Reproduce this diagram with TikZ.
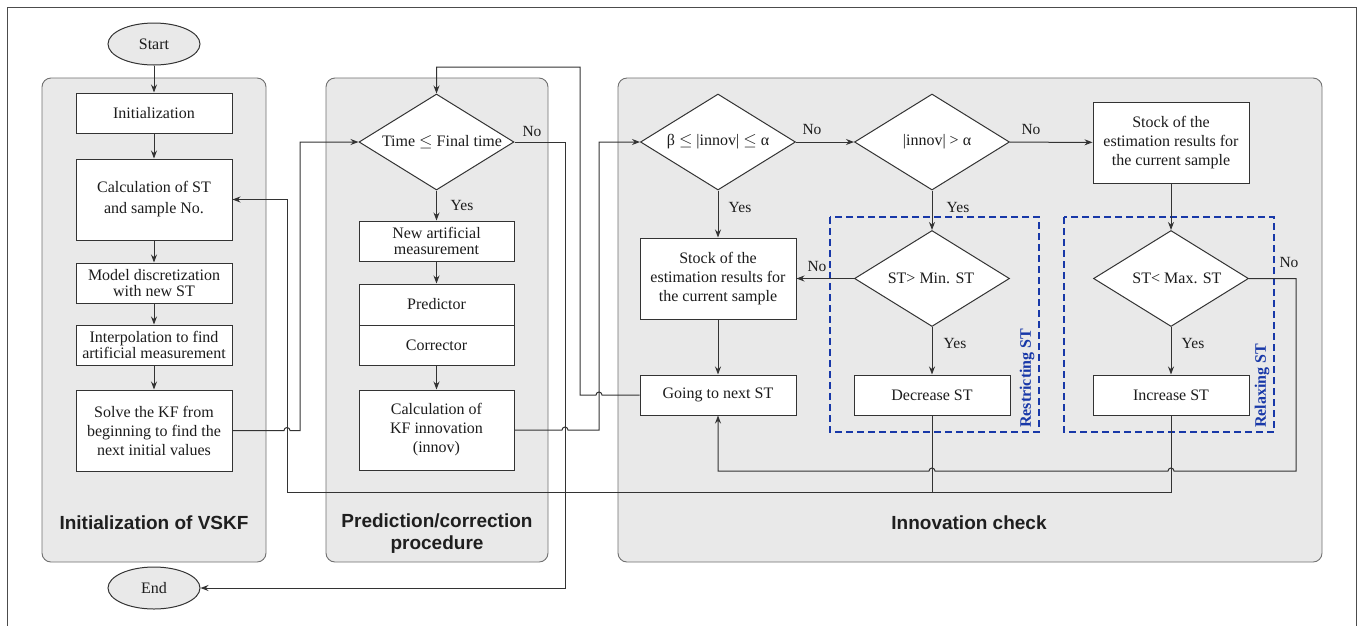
\documentclass[tikz,border=0pt]{standalone}
\usepackage{fontspec}
\setmainfont{Liberation Serif}
\newfontfamily\hfont{Liberation Sans}
\usetikzlibrary{shapes.geometric,arrows.meta}
\definecolor{panelfill}{HTML}{E9E9E9}
\definecolor{panelline}{HTML}{707070}
\definecolor{lin}{HTML}{333333}
\definecolor{txt}{HTML}{1C1C1C}
\definecolor{dblue}{HTML}{1838A8}
\begin{document}
\begin{tikzpicture}[x=1pt,y=-1pt,
  every node/.style={text=txt},
  box/.style={draw=lin, fill=white, line width=1pt, minimum width=156pt, align=center, font=\fontsize{16}{19}\selectfont, inner sep=1pt},
  dia/.style={diamond, draw=lin, fill=white, line width=1pt, inner sep=0pt, minimum width=155pt, minimum height=96pt},
  dtxt/.style={font=\fontsize{16}{19}\selectfont, inner sep=0pt},
  lbl/.style={font=\fontsize{15.5}{18}\selectfont, inner sep=0pt},
  panel/.style={draw=panelline, fill=panelfill, line width=0.9pt, rounded corners=9pt},
  term/.style={ellipse, draw=lin, fill=panelfill, line width=1pt, minimum width=92pt, minimum height=42pt, inner sep=0pt, font=\fontsize{16}{19}\selectfont},
  arr/.style={draw=lin, line width=1pt, -{Stealth[length=8pt,width=6pt]}},
  wire/.style={draw=lin, line width=1pt},
  ptitle/.style={font=\hfont\bfseries\fontsize{19}{22}\selectfont, align=center, text=black!88},
  dashbox/.style={draw=dblue, line width=1.4pt, dash pattern=on 7pt off 4pt},
  rotlbl/.style={rotate=90, anchor=west, text=dblue, font=\bfseries\fontsize{16}{19}\selectfont, inner sep=0pt}
]
\useasboundingbox (0,0) rectangle (1363,625);
\fill[white] (0,0) rectangle (1363,625);
\draw[draw=black!70, line width=0.9pt] (7,7) rectangle (1356,640);

% panels
\draw[panel] (42,78) rectangle (266,562);
\draw[panel] (326,78) rectangle (548,562);
\draw[panel] (618,78) rectangle (1322,562);

\node[ptitle] (t1) at (154,523) {Initialization of VSKF};
\node[ptitle] (t2) at (437,534) {Prediction/correction\\procedure};
\node[ptitle] (t3) at (969,523) {Innovation check};

% dashed groups
\draw[dashbox] (830,217) rectangle (1039,432);
\draw[dashbox] (1064,217) rectangle (1274,432);
\node[rotlbl] (rs) at (1027,428) {Restricting ST};
\node[rotlbl] (rx) at (1262,428) {Relaxing ST};

% terminals
\node[term] (start) at (154,44) {Start};
\node[term] (end) at (154,588) {End};

% left column
\node[box, minimum height=40pt] (init) at (154,113) {Initialization};
\node[box, minimum height=81pt, font=\fontsize{16}{21}\selectfont] (calc) at (154,199.5) {Calculation of ST\\and sample No.};
\node[box, minimum height=40pt, font=\fontsize{16}{15.7}\selectfont] (model) at (154,283) {Model discretization\\with new ST};
\node[box, minimum height=40pt, font=\fontsize{16}{15.7}\selectfont] (interp) at (154,345) {Interpolation to find\\artificial measurement};
\node[box, minimum height=81pt] (solve) at (154,430.5) {Solve the KF from\\beginning to find the\\next initial values};

% middle column
\node[dia] (d0) at (436.5,142) {};
\node[dtxt] (d0t) at (442,142) {Time \(\leq\) Final time};
\node[box, minimum width=155pt, minimum height=40pt, font=\fontsize{16}{15.7}\selectfont] (newm) at (436.5,241) {New artificial\\measurement};
\node[box, minimum width=155pt, minimum height=41pt] (pred) at (436.5,304.5) {Predictor};
\node[box, minimum width=155pt, minimum height=40pt] (corr) at (436.5,345) {Corrector};
\node[box, minimum width=155pt, minimum height=80pt] (kf) at (436.5,430) {Calculation of\\KF innovation\\(innov)};

% right panel
\node[dia] (d1) at (718,142) {};
\node[dtxt] (d1t) at (718,142) {β \(\leq\) |innov| \(\leq\) α};
\node[dia] (d2) at (932,142) {};
\node[dtxt] (d2t) at (937,142) {|innov| > α};
\node[box, minimum height=81pt] (stockR) at (1171,142.5) {Stock of the\\estimation results for\\the current sample};
\node[box, minimum height=81pt] (stockL) at (718,278.5) {Stock of the\\estimation results for\\the current sample};
\node[dia] (d3) at (932,278.5) {};
\node[dtxt] (d3t) at (931,278.5) {ST> Min. ST};
\node[dia] (d4) at (1171,278.5) {};
\node[dtxt] (d4t) at (1177,278.5) {ST< Max. ST};
\node[box, minimum height=40pt] (next) at (718,395) {Going to next ST};
\node[box, minimum height=40pt] (dec) at (932,395) {Decrease ST};
\node[box, minimum height=40pt] (inc) at (1171,395) {Increase ST};

% vertical chains
\draw[arr] (start) -- (init);
\draw[arr] (init) -- (calc);
\draw[arr] (calc) -- (model);
\draw[arr] (model) -- (interp);
\draw[arr] (interp) -- (solve);
\draw[arr] (d0) -- (newm);
\draw[arr] (newm) -- (pred);
\draw[arr] (corr) -- (kf);
\draw[arr] (d1) -- (stockL);
\draw[arr] (d2) -- (d3);
\draw[arr] (stockR) -- (d4);
\draw[arr] (d3) -- (dec);
\draw[arr] (d4) -- (inc);
\draw[arr] (stockL) -- (next);
\draw[arr] (d1) -- (d2);
\draw[arr] (d2) -- (stockR);
\draw[arr] (d3) -- (stockL);

% solve -> time check
\draw[arr] (solve.east) -- (284,430.5) arc[start angle=180, end angle=360, radius=3] -- (300,430.5) |- (d0.west);
% time check No -> End
\draw[arr] (d0.east) -- (565,142) -- (565,588) -- (end.east);
% KF -> beta check
\draw[arr] (kf.east) -- (562,430) arc[start angle=180, end angle=360, radius=3] -- (599,430) |- (d1.west);
% going to next ST -> time check
\draw[arr] (next.west) -- (602,395) arc[start angle=0, end angle=-180, radius=3] -- (580,395) -- (580,67) -| (d0.north);
% ST<Max No -> going to next ST
\draw[arr] (d4.east) -- (1296,278.5) -- (1296,471) -- (1174,471) arc[start angle=0, end angle=-180, radius=3] -- (935,471) arc[start angle=0, end angle=-180, radius=3] -- (718,471) -- (next.south);
% increase / decrease -> calculation of ST
\draw[arr] (inc.south) -- (1171,492) -- (287,492) |- (calc.east);
\draw[wire] (dec.south) -- (932,492);

% labels
\node[lbl] (l1) at (532,131) {No};
\node[lbl] (l2) at (462,205) {Yes};
\node[lbl] (l3) at (812,129) {No};
\node[lbl] (l4) at (1031,129) {No};
\node[lbl] (l5) at (740,207) {Yes};
\node[lbl] (l6) at (958,207) {Yes};
\node[lbl] (l7) at (817,266) {No};
\node[lbl] (l8) at (955,343) {Yes};
\node[lbl] (l9) at (1289,262) {No};
\node[lbl] (l10) at (1193,343) {Yes};
\end{tikzpicture}
\end{document}
